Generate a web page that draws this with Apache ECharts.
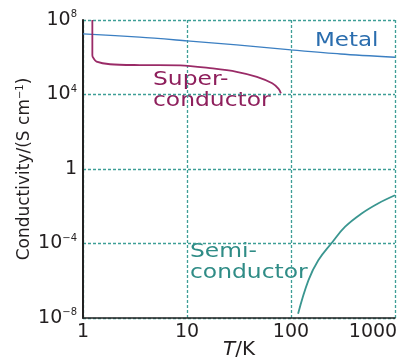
<!DOCTYPE html>
<html>
<head>
<meta charset="utf-8">
<script src="https://cdn.jsdelivr.net/npm/echarts@6/dist/echarts.min.js"></script>
<style>
html,body{margin:0;padding:0;background:#fff;}
#c{width:405px;height:357px;}
</style>
</head>
<body>
<div id="c"></div>
<script>
// Temperatures (K) and conductivities (S cm^-1)
var metalT = [1, 3.5, 10, 30, 100, 300, 1000];
var metalS = [1.8e7, 1.2e7, 7.6e6, 4.6e6, 2.5e6, 1.5e6, 1.0e6];

var superT = [1.23, 1.23, 1.26, 1.35, 1.82, 3.5, 8.6, 17.7, 30, 47, 66, 76, 80];
var superS = [1e8, 1.3e6, 9e5, 5.8e5, 4.2e5, 3.8e5, 3.7e5, 2.5e5, 1.66e5, 8.9e4, 4.0e4, 2.0e4, 1.15e4];

var semiT = [117, 147, 183, 246, 330, 478, 687, 1000];
var semiS = [1.7e-8, 1.05e-6, 1.26e-5, 1.07e-4, 7.8e-4, 4.1e-3, 1.41e-2, 3.9e-2];

var xTickValues = [1, 10, 100, 1000];
var xTickLabels = ['1', '10', '100', '1000'];
var yTickValues = [1e-8, 1e-4, 1, 1e4, 1e8];
var yTickLabels = [['10', '\u22128'], ['10', '\u22124'], ['1', ''], ['10', '4'], ['10', '8']];

var seriesNames = ['Metal', 'Superconductor', 'Semiconductor'];

function pairs(xs, ys) { return xs.map(function (x, i) { return [x, ys[i]]; }); }
function nearestIdx(arr, v) {
  var best = 0, bd = Infinity;
  arr.forEach(function (a, i) { var d = Math.abs(Math.log10(a) - Math.log10(v)); if (d < bd) { bd = d; best = i; } });
  return best;
}

var FONT = "'DejaVu Sans', 'Liberation Sans', Arial, sans-serif";
var TXT = '#231f20';
var GRID = '#3d9e96';

var chart = echarts.init(document.getElementById('c'), null, { renderer: 'canvas' });
chart.setOption({
  animation: false,
  backgroundColor: '#ffffff',
  grid: { left: 83, right: 10, top: 20, bottom: 39, containLabel: false, outerBoundsMode: 'none' },
  xAxis: {
    type: 'log', logBase: 10, min: 1, max: 1000, interval: 1,
    name: '{i|T}{n|/K}', nameLocation: 'middle', nameGap: 22, nameMoveOverlap: false,
    nameTextStyle: { rich: {
      i: { fontFamily: FONT, fontSize: 20, fontStyle: 'italic', color: TXT },
      n: { fontFamily: FONT, fontSize: 20, color: TXT } } },
    axisLine: { show: true, lineStyle: { color: '#222', width: 1.5 } },
    axisTick: { show: false },
    axisLabel: { margin: 5, color: TXT,
      formatter: function (v) {
        var i = nearestIdx(xTickValues, v);
        return i === xTickValues.length - 1 ? '{m|' + xTickLabels[i] + '}' : '{t|' + xTickLabels[i] + '}';
      },
      rich: {
        t: { fontFamily: FONT, fontSize: 19, color: TXT },
        m: { fontFamily: FONT, fontSize: 19, color: TXT, padding: [0, 44, 0, 0] }
      } },
    splitLine: { show: true, lineStyle: { color: GRID, width: 1.3, type: [3, 2] } },
    minorTick: { show: false }
  },
  yAxis: {
    type: 'log', logBase: 10, min: 1e-8, max: 1e8, interval: 4,
    name: '{a|Conductivity/(S cm}{s|\u22121}{a|)}', nameLocation: 'middle', nameGap: 48, nameMoveOverlap: false,
    nameTextStyle: { rich: {
      a: { fontFamily: FONT, fontSize: 17, color: TXT },
      s: { fontFamily: FONT, fontSize: 10, color: TXT, padding: [0, 0, 10, 0] } } },
    axisLine: { show: true, lineStyle: { color: '#222', width: 2 } },
    axisTick: { show: false },
    axisLabel: { margin: 6, color: TXT,
      formatter: function (v) {
        var t = yTickLabels[nearestIdx(yTickValues, v)];
        return t[1] ? '{b|' + t[0] + '}{s|' + t[1] + '}' : '{b|' + t[0] + '}';
      },
      rich: {
        b: { fontFamily: FONT, fontSize: 19, color: TXT },
        s: { fontFamily: FONT, fontSize: 10, color: TXT, padding: [0, 0, 11, 0] }
      } },
    splitLine: { show: true, lineStyle: { color: GRID, width: 1.3, type: [3, 2] } }
  },
  series: [
    { name: seriesNames[0], type: 'line', data: pairs(metalT, metalS), smooth: 0.3, showSymbol: false,
      lineStyle: { color: '#3b7fc2', width: 1.4 } },
    { name: seriesNames[1], type: 'line', data: pairs(superT, superS), smooth: 0.3, showSymbol: false,
      lineStyle: { color: '#9a2b67', width: 1.8 } },
    { name: seriesNames[2], type: 'line', data: pairs(semiT, semiS), smooth: 0.4, showSymbol: false,
      lineStyle: { color: '#3a9690', width: 1.8 } }
  ],
  graphic: [
    { type: 'text', x: 315, y: 41, scaleX: 1.15, style: { text: 'Metal', font: '20px ' + FONT, fill: '#2a6dae', textVerticalAlign: 'middle' } },
    { type: 'text', x: 153, y: 80, scaleX: 1.17, style: { text: 'Super-', font: '20px ' + FONT, fill: '#8e1f5c', textVerticalAlign: 'middle' } },
    { type: 'text', x: 153, y: 101, scaleX: 1.17, style: { text: 'conductor', font: '20px ' + FONT, fill: '#8e1f5c', textVerticalAlign: 'middle' } },
    { type: 'text', x: 190, y: 252, scaleX: 1.17, style: { text: 'Semi-', font: '20px ' + FONT, fill: '#2f8c86', textVerticalAlign: 'middle' } },
    { type: 'text', x: 190, y: 273, scaleX: 1.17, style: { text: 'conductor', font: '20px ' + FONT, fill: '#2f8c86', textVerticalAlign: 'middle' } }
  ]
});
</script>
</body>
</html>
